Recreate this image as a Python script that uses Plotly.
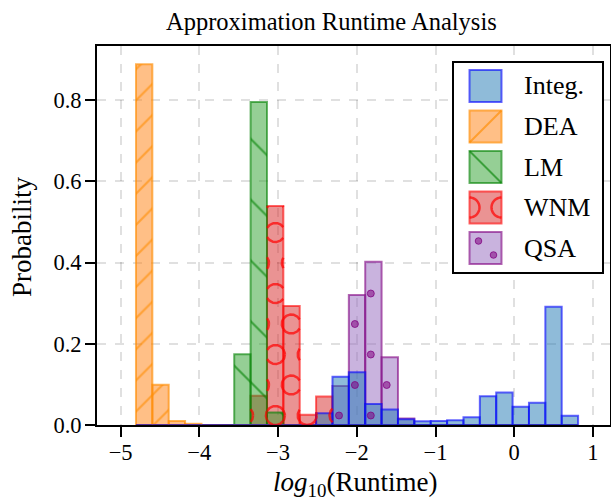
import numpy as np
import plotly.graph_objects as go

# ---- data: probability per shared log10(runtime) bin ----
BIN_START = -4.805
BIN_WIDTH = 0.208
N_BINS = 27

series_order = ["Integ.", "DEA", "LM", "WNM", "QSA"]

integ = [0, 0, 0, 0, 0, 0, 0, 0, 0, 0, 0,
         0.029, 0.119, 0.130, 0.052, 0.038, 0.014, 0.009, 0.010, 0.012,
         0.019, 0.071, 0.080, 0.045, 0.055, 0.291, 0.023]
dea = [0.888, 0.099, 0.010, 0.003, 0, 0, 0, 0, 0, 0, 0, 0, 0, 0,
       0, 0, 0, 0, 0, 0, 0, 0, 0, 0, 0, 0, 0]
lm = [0, 0, 0, 0, 0, 0, 0.174, 0.795, 0.031, 0, 0, 0, 0, 0,
      0, 0, 0, 0, 0, 0, 0, 0, 0, 0, 0, 0, 0]
wnm = [0, 0, 0, 0, 0, 0, 0, 0.072, 0.539, 0.293, 0.025, 0.070, 0, 0,
       0, 0, 0, 0, 0, 0, 0, 0, 0, 0, 0, 0, 0]
qsa = [0, 0, 0, 0, 0, 0, 0, 0, 0, 0, 0, 0, 0.096, 0.320,
       0.402, 0.167, 0.016, 0, 0, 0, 0, 0, 0, 0, 0, 0, 0]

x_ticks = [-5, -4, -3, -2, -1, 0, 1]
y_ticks = [0.0, 0.2, 0.4, 0.6, 0.8]

values = {"Integ.": integ, "DEA": dea, "LM": lm, "WNM": wnm, "QSA": qsa}

# ---- layout geometry (pixels) ----
FIG_W, FIG_H = 611, 500
AX_L, AX_R, AX_T, AX_B = 97.0, 609.5, 46.0, 425.0
X_RANGE = [-5.3, 1.21]
Y_RANGE = [0.0, 0.933]
FONT = "Liberation Serif"


def x_to_px(x):
    return AX_L + (x - X_RANGE[0]) / (X_RANGE[1] - X_RANGE[0]) * (AX_R - AX_L)


def px_to_x(p):
    return X_RANGE[0] + (p - AX_L) / (AX_R - AX_L) * (X_RANGE[1] - X_RANGE[0])


def y_to_px(y):
    return AX_B - (y - Y_RANGE[0]) / (Y_RANGE[1] - Y_RANGE[0]) * (AX_B - AX_T)


def px_to_y(p):
    return Y_RANGE[0] + (AX_B - p) / (AX_B - AX_T) * (Y_RANGE[1] - Y_RANGE[0])


def pxx(p):
    return p / FIG_W


def pxy(p):
    return 1 - p / FIG_H


STYLE = {
    "Integ.": dict(fill="rgba(31,119,180,0.5)", edge="rgba(0,0,255,0.6)", hatch=None),
    "DEA": dict(fill="rgba(255,127,14,0.5)", edge="rgba(255,140,0,0.65)", hatch="/"),
    "LM": dict(fill="rgba(44,160,44,0.5)", edge="rgba(0,128,0,0.6)", hatch="\\"),
    "WNM": dict(fill="rgba(214,39,40,0.5)", edge="rgba(255,0,0,0.6)", hatch="O"),
    "QSA": dict(fill="rgba(148,103,189,0.5)", edge="rgba(128,0,128,0.6)", hatch="."),
}
PATTERN = {
    "/": dict(size=22, solidity=0.1, fg="rgb(255,140,0)"),
    "\\": dict(size=43, solidity=0.05, fg="rgb(0,128,0)"),
}

# hatch lattice (staggered rows), pixel space
H_X0, H_Y0, H_PX, H_PY = 339.0, 415.5, 31.8, 30.5
RING_R = 9.5
DOT_D = 7

edges = BIN_START + BIN_WIDTH * np.arange(N_BINS + 1)
centers = edges[:-1] + BIN_WIDTH / 2

fig = go.Figure()

draw_order = ["QSA", "WNM", "LM", "DEA", "Integ."]
for name in draw_order:
    st = STYLE[name]
    marker = dict(color=st["fill"], line=dict(color=st["edge"], width=2))
    if st["hatch"] in PATTERN:
        p = PATTERN[st["hatch"]]
        marker["pattern"] = dict(shape=st["hatch"], size=p["size"], solidity=p["solidity"],
                                 fgcolor=p["fg"], fgopacity=0.6, fillmode="overlay")
    fig.add_trace(go.Bar(x=centers, y=values[name], width=BIN_WIDTH, marker=marker,
                         name=name, showlegend=False, hoverinfo="x+y+name"))


def lattice_points(xl, xr, yt, yb, pad):
    pts = []
    j_lo = int(np.floor((H_Y0 - (yb + pad)) / H_PY)) - 1
    j_hi = int(np.ceil((H_Y0 - (yt - pad)) / H_PY)) + 1
    for j in range(j_lo, j_hi + 1):
        cy = H_Y0 - H_PY * j
        if cy < yt - pad or cy > yb + pad:
            continue
        xoff = H_X0 + (H_PX / 2) * (j % 2)
        k_lo = int(np.floor((xl - pad - xoff) / H_PX)) - 1
        k_hi = int(np.ceil((xr + pad - xoff) / H_PX)) + 1
        for k in range(k_lo, k_hi + 1):
            cx = xoff + H_PX * k
            if xl - pad <= cx <= xr + pad:
                pts.append((cx, cy))
    return pts


# ring hatch for WNM, clipped to each bar
ring_x, ring_y = [], []
theta = np.linspace(0, 2 * np.pi, 241)
for i, h in enumerate(wnm):
    if h <= 0:
        continue
    xl, xr = x_to_px(edges[i]), x_to_px(edges[i + 1])
    yt, yb = y_to_px(h), y_to_px(0)
    for cx, cy in lattice_points(xl, xr, yt, yb, RING_R):
        px = cx + RING_R * np.cos(theta)
        py = cy + RING_R * np.sin(theta)
        inside = (px >= xl) & (px <= xr) & (py >= yt) & (py <= yb)
        run = False
        for a, b, ok in zip(px, py, inside):
            if ok:
                ring_x.append(px_to_x(a))
                ring_y.append(px_to_y(b))
                run = True
            elif run:
                ring_x.append(None)
                ring_y.append(None)
                run = False
        ring_x.append(None)
        ring_y.append(None)

fig.add_trace(go.Scatter(x=ring_x, y=ring_y, mode="lines", hoverinfo="skip",
                         line=dict(color="rgba(255,0,0,0.7)", width=2.5), showlegend=False))

# dot hatch for QSA
dot_x, dot_y = [], []
for i, h in enumerate(qsa):
    if h <= 0:
        continue
    xl, xr = x_to_px(edges[i]), x_to_px(edges[i + 1])
    yt, yb = y_to_px(h), y_to_px(0)
    for cx, cy in lattice_points(xl, xr, yt, yb, 0):
        if yt + 2 <= cy <= yb - 2:
            dot_x.append(px_to_x(cx))
            dot_y.append(px_to_y(cy))

fig.add_trace(go.Scatter(x=dot_x, y=dot_y, mode="markers", hoverinfo="skip",
                         marker=dict(size=DOT_D, color="rgba(128,0,128,0.55)",
                                     line=dict(color="rgba(128,0,128,0.75)", width=1)),
                         showlegend=False))

# ---- legend box drawn with shapes ----
shapes = []
annotations = []
LEG_L, LEG_R, LEG_T, LEG_B = 453, 603, 62, 273
shapes.append(dict(type="rect", xref="paper", yref="paper", layer="above",
                   x0=pxx(LEG_L), x1=pxx(LEG_R), y0=pxy(LEG_B), y1=pxy(LEG_T),
                   fillcolor="white", line=dict(color="black", width=2)))
SW_L, SW_R = 469.5, 501.5
row_tops = [70, 110.5, 151, 191.5, 232]
SW_H = 32
for name, top in zip(series_order, row_tops):
    st = STYLE[name]
    bot = top + SW_H
    shapes.append(dict(type="rect", xref="paper", yref="paper", layer="above",
                       x0=pxx(SW_L), x1=pxx(SW_R), y0=pxy(bot), y1=pxy(top),
                       fillcolor=st["fill"], line=dict(color=st["edge"], width=2)))
    if st["hatch"] == "/":
        shapes.append(dict(type="line", xref="paper", yref="paper", layer="above",
                           x0=pxx(SW_L), y0=pxy(bot), x1=pxx(SW_R), y1=pxy(top),
                           line=dict(color="rgba(255,140,0,0.65)", width=2)))
    elif st["hatch"] == "\\":
        shapes.append(dict(type="line", xref="paper", yref="paper", layer="above",
                           x0=pxx(SW_L), y0=pxy(top), x1=pxx(SW_R), y1=pxy(bot),
                           line=dict(color="rgba(0,128,0,0.6)", width=2)))
    elif st["hatch"] == "O":
        cy = (top + bot) / 2
        for cx, a0, a1 in [(SW_L, -np.pi / 2, np.pi / 2), (SW_R, np.pi / 2, 3 * np.pi / 2)]:
            ang = np.linspace(a0, a1, 25)
            pts = [(pxx(cx + 10 * np.cos(a)), pxy(cy + 10 * np.sin(a))) for a in ang]
            path = "M" + " L".join(f"{u:.5f},{v:.5f}" for u, v in pts)
            shapes.append(dict(type="path", xref="paper", yref="paper", layer="above",
                               path=path, line=dict(color="rgba(255,0,0,0.7)", width=2.5)))
    elif st["hatch"] == ".":
        for cx, cy in [(SW_L + 9, top + 9), (SW_L + 24, top + 23)]:
            shapes.append(dict(type="circle", xref="paper", yref="paper", layer="above",
                               x0=pxx(cx - 3.3), x1=pxx(cx + 3.3), y0=pxy(cy + 3.3), y1=pxy(cy - 3.3),
                               fillcolor="rgba(128,0,128,0.55)", line=dict(color="rgba(128,0,128,0.75)", width=1)))
    annotations.append(dict(text=name, xref="paper", yref="paper", x=pxx(522), y=pxy(top + SW_H / 2),
                            xanchor="left", yanchor="middle", showarrow=False,
                            font=dict(family=FONT, size=26, color="black")))

# title and axis labels
annotations.append(dict(text="Approximation Runtime Analysis", xref="paper", yref="paper",
                        x=pxx(331), y=pxy(21), xanchor="center", yanchor="middle", showarrow=False,
                        font=dict(family=FONT, size=24.5, color="black")))
annotations.append(dict(text="Probability", xref="paper", yref="paper", textangle=-90,
                        x=pxx(22), y=pxy(237), xanchor="center", yanchor="middle", showarrow=False,
                        font=dict(family=FONT, size=27, color="black")))
annotations.append(dict(text="<i>log</i><sub>10</sub>(Runtime)", xref="paper", yref="paper",
                        x=pxx(355), y=pxy(484), xanchor="center", yanchor="middle", showarrow=False,
                        font=dict(family=FONT, size=27, color="black")))

axis_common = dict(showline=True, linecolor="black", linewidth=2, mirror=True,
                   ticks="outside", ticklen=10, tickwidth=2, tickcolor="black",
                   showgrid=True, gridcolor="rgba(0,0,0,0.12)", griddash="dash", gridwidth=1.5,
                   zeroline=False, automargin=False,
                   tickfont=dict(family=FONT, size=22.5, color="black"))

fig.update_layout(
    width=FIG_W, height=FIG_H,
    margin=dict(l=0, r=0, t=0, b=0),
    paper_bgcolor="white", plot_bgcolor="white",
    barmode="overlay", showlegend=False,
    xaxis=dict(domain=[pxx(AX_L), pxx(AX_R)], range=X_RANGE, tickmode="array",
               tickvals=x_ticks, ticklabelstandoff=-4, **axis_common),
    yaxis=dict(domain=[pxy(AX_B), pxy(AX_T)], range=Y_RANGE, tickmode="array",
               tickvals=y_ticks, tickformat=".1f", ticklabelstandoff=-1, **axis_common),
    shapes=shapes,
    annotations=annotations,
)

fig.write_html("out.html")
